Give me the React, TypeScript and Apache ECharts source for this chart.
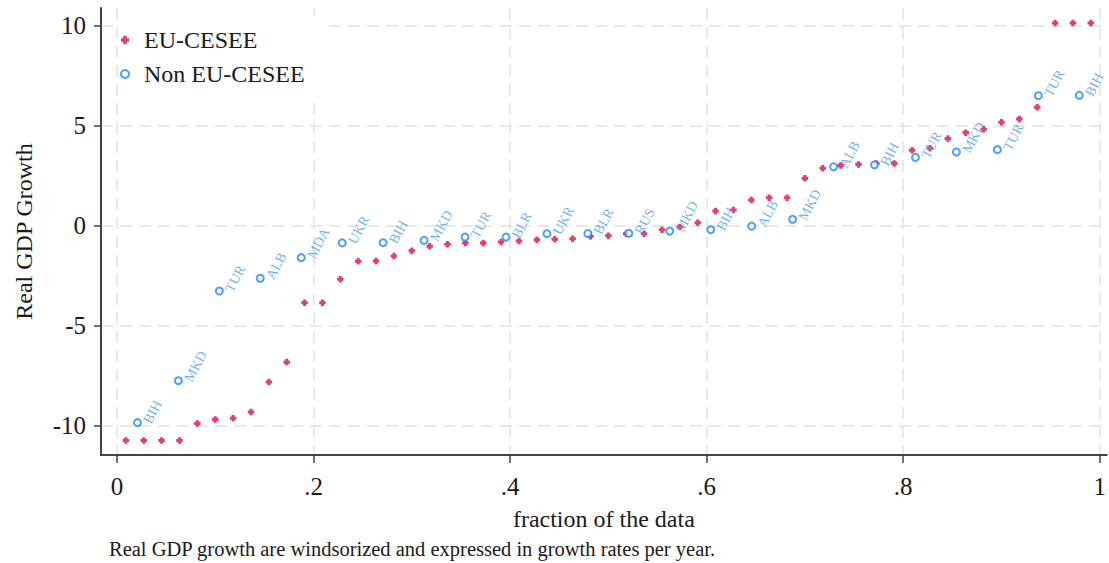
import React, { useEffect, useRef } from 'react';
import * as echarts from 'echarts';

const euName = 'EU-CESEE';
const nonEuName = 'Non EU-CESEE';

// Real GDP growth, EU-CESEE observations (sorted)
const euGrowth = [
  -10.75, -10.75, -10.75, -10.75, -9.9, -9.7, -9.64, -9.33, -7.83, -6.83,
  -3.86, -3.86, -2.68, -1.78, -1.77, -1.52, -1.25, -1.03, -0.93, -0.87,
  -0.87, -0.82, -0.77, -0.7, -0.68, -0.65, -0.53, -0.5, -0.4, -0.4,
  -0.2, -0.07, 0.15, 0.74, 0.79, 1.29, 1.4, 1.4, 2.37, 2.88,
  3.02, 3.07, 3.12, 3.12, 3.78, 3.88, 4.36, 4.66, 4.83, 5.18,
  5.34, 5.93, 10.15, 10.15, 10.15,
];

// Real GDP growth, Non EU-CESEE observations (sorted) and their country codes
const nonEuGrowth = [
  -9.86, -7.76, -3.27, -2.63, -1.6, -0.86, -0.85, -0.73, -0.57, -0.57,
  -0.4, -0.39, -0.38, -0.27, -0.2, -0.02, 0.32, 2.95, 3.05, 3.42,
  3.69, 3.81, 6.51, 6.53,
];
const nonEuCountries = [
  'BIH', 'MKD', 'TUR', 'ALB', 'MDA', 'UKR', 'BIH', 'MKD', 'TUR', 'BLR',
  'UKR', 'BLR', 'RUS', 'MKD', 'BIH', 'ALB', 'MKD', 'ALB', 'BIH', 'TUR',
  'MKD', 'TUR', 'TUR', 'BIH',
];

const xTicks = [0, 0.2, 0.4, 0.6, 0.8, 1];
const xTickLabels = ['0', '.2', '.4', '.6', '.8', '1'];
const yTicks = [-10, -5, 0, 5, 10];
const yTickLabels = ['-10', '-5', '0', '5', '10'];

const xTitle = 'fraction of the data';
const yTitle = 'Real GDP Growth';
const note = 'Real GDP growth are windsorized and expressed in growth rates per year.';

const SERIF = "'Liberation Serif', 'Times New Roman', serif";
const RED = '#d3124d';
const BLUE = '#1f87ff';
const LABEL_BLUE = '#4b9bf2';
const GRID = '#e2e2e2';
const AXIS = '#444';
const TEXT = '#1a1a1a';

const pick = (ticks: number[], labels: string[]) => (v: number) => {
  const i = ticks.findIndex((t) => Math.abs(t - v) < 1e-9);
  return i >= 0 ? labels[i] : '';
};

export default function App() {
  const ref = useRef<HTMLDivElement>(null);

  useEffect(() => {
    if (!ref.current) return;
    const chart = echarts.init(ref.current, undefined, { renderer: 'svg' });

    const euData = euGrowth.map((v, i) => [(i + 0.5) / euGrowth.length, v]);
    const nonEuData = nonEuGrowth.map((v, i) => ({
      name: nonEuCountries[i],
      value: [(i + 0.5) / nonEuGrowth.length, v],
    }));

    const splitLine = {
      show: true,
      lineStyle: { color: GRID, width: 1.5, type: [12, 7] as any },
    };

    chart.setOption({
      animation: false,
      backgroundColor: '#fff',
      grid: { left: 101, right: 0, top: 8, bottom: 108, containLabel: false },
      legend: {
        orient: 'vertical',
        left: 119,
        top: 16,
        padding: [12, 20, 10, 1],
        backgroundColor: '#fff',
        itemWidth: 8,
        itemHeight: 8,
        itemGap: 10,
        textStyle: {
          fontFamily: SERIF,
          fontSize: 24,
          color: TEXT,
          padding: [0, 0, 0, 10],
        },
        data: [euName, nonEuName],
      },
      xAxis: {
        type: 'value',
        min: -0.01624,
        max: 1.0071,
        name: xTitle,
        nameLocation: 'middle',
        nameGap: 52,
        nameTextStyle: { fontFamily: SERIF, fontSize: 24, color: TEXT },
        axisLine: { show: true, onZero: false, lineStyle: { color: AXIS, width: 2 } },
        axisTick: {
          show: true,
          customValues: xTicks,
          length: 8,
          lineStyle: { color: AXIS, width: 1.5 },
        },
        axisLabel: {
          customValues: xTicks,
          formatter: pick(xTicks, xTickLabels),
          fontFamily: SERIF,
          fontSize: 25,
          color: TEXT,
          margin: 19,
        },
        splitLine,
      },
      yAxis: {
        type: 'value',
        min: -11.48,
        max: 10.9,
        name: yTitle,
        nameLocation: 'middle',
        nameGap: 65,
        nameTextStyle: { fontFamily: SERIF, fontSize: 24, color: TEXT },
        axisLine: { show: true, onZero: false, lineStyle: { color: AXIS, width: 2 } },
        axisTick: {
          show: true,
          customValues: yTicks,
          length: 7,
          lineStyle: { color: AXIS, width: 1.5 },
        },
        axisLabel: {
          customValues: yTicks,
          formatter: pick(yTicks, yTickLabels),
          fontFamily: SERIF,
          fontSize: 25,
          color: TEXT,
          margin: 15,
        },
        splitLine,
      },
      graphic: [
        {
          type: 'text',
          left: 109,
          top: 538,
          style: { text: note, fontFamily: SERIF, fontSize: 20.5, fill: TEXT },
        },
      ],
      series: [
        {
          name: euName,
          type: 'scatter',
          data: euData,
          symbol: 'path://M1.6,0H4.4V1.6H6V4.4H4.4V6H1.6V4.4H0V1.6H1.6Z',
          symbolSize: 6.5,
          itemStyle: { color: RED },
        },
        {
          name: nonEuName,
          type: 'scatter',
          data: nonEuData,
          symbol: 'circle',
          symbolSize: 7,
          itemStyle: { color: '#fff', borderColor: BLUE, borderWidth: 2 },
          label: {
            show: true,
            formatter: '{b}',
            position: 'right',
            distance: 5,
            rotate: 62,
            fontFamily: SERIF,
            fontSize: 14,
            color: LABEL_BLUE,
          },
        },
      ],
    });

    return () => chart.dispose();
  }, []);

  return (
    <div
      ref={ref}
      style={{ position: 'absolute', left: 0, top: 0, width: 1109, height: 563 }}
    />
  );
}
